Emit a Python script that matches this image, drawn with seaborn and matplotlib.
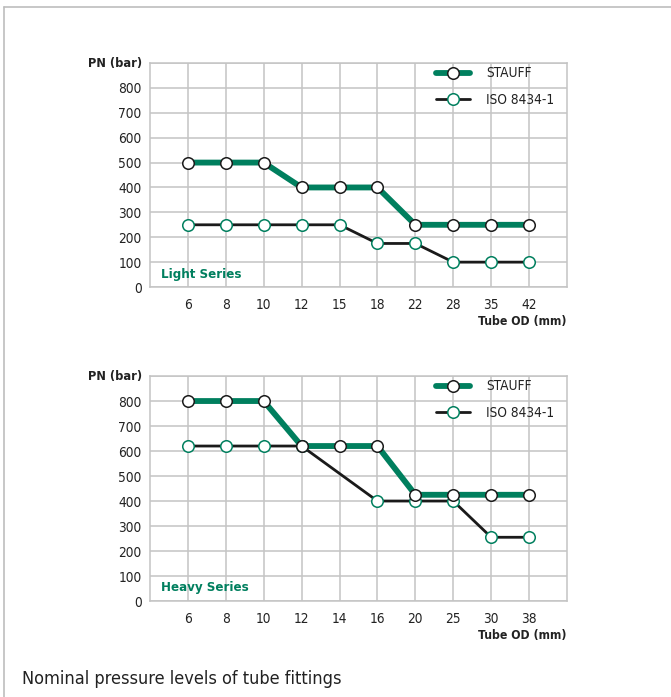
import numpy as np
import pandas as pd
import matplotlib
matplotlib.use("Agg")
import matplotlib.pyplot as plt
from matplotlib.lines import Line2D
import seaborn as sns

# ---- data ----
light_sizes = ["6", "8", "10", "12", "15", "18", "22", "28", "35", "42"]
light_stauff = [500, 500, 500, 400, 400, 400, 250, 250, 250, 250]
light_iso = [250, 250, 250, 250, 250, 175, 175, 100, 100, 100]

heavy_sizes = ["6", "8", "10", "12", "14", "16", "20", "25", "30", "38"]
heavy_stauff = [800, 800, 800, 620, 620, 620, 425, 425, 425, 425]
heavy_iso = [620, 620, 620, 620, np.nan, 400, 400, 400, 255, 255]

y_ticks = [0, 100, 200, 300, 400, 500, 600, 700, 800]
series_names = ["STAUFF", "ISO 8434-1"]
panel_labels = ["Light Series", "Heavy Series"]

GREEN = "#007f5e"
GRID = "#c4c4c4"
TXT = "#222222"

sns.set_theme(style="white")
plt.rcParams['font.family'] = ['DejaVu Sans']
plt.rcParams['font.stretch'] = 'condensed'

fig = plt.figure(figsize=(6.71, 6.97), dpi=100)

def panel(rect, sizes, stauff, iso, label):
    ax = fig.add_axes(rect)
    x = np.arange(len(sizes))
    df = pd.DataFrame({"x": x, "stauff": stauff, "iso": iso})
    sns.lineplot(data=df, x="x", y="iso", ax=ax, color="#1a1a1a", lw=2.0,
                 marker="o", markersize=8.3, markerfacecolor="white",
                 markeredgecolor=GREEN, markeredgewidth=1.1, zorder=3,
                 label=series_names[1])
    sns.lineplot(data=df, x="x", y="stauff", ax=ax, color=GREEN, lw=4.2,
                 marker="o", markersize=8.3, markerfacecolor="white",
                 markeredgecolor="#1a1a1a", markeredgewidth=1.1, zorder=4,
                 label=series_names[0])
    ax.set_xlim(-1, len(sizes))
    ax.set_ylim(0, 900)
    ax.set_xticks(x)
    ax.set_xticklabels(sizes)
    ax.set_yticks(y_ticks)
    ax.set_yticklabels([str(v) for v in y_ticks])
    ax.yaxis.set_minor_locator(matplotlib.ticker.FixedLocator([900]))
    ax.grid(True, which="both", color=GRID, lw=1.1)
    ax.set_axisbelow(True)
    for s in ax.spines.values():
        s.set_color(GRID)
        s.set_linewidth(1.1)
    ax.tick_params(axis="both", length=0, labelsize=9.8, colors=TXT)
    ax.tick_params(axis="x", pad=8)
    ax.tick_params(axis="y", pad=6)
    ax.set_xlabel("")
    ax.set_ylabel("")
    ax.text(-0.018, 1.0, "PN (bar)", transform=ax.transAxes, ha="right",
            va="center", fontsize=9.2, fontweight="bold", color=TXT)
    ax.text(1.0, -0.155, "Tube OD (mm)", transform=ax.transAxes, ha="right",
            va="center", fontsize=8.8, fontweight="bold", color=TXT)
    ax.text(0.026, 0.058, label, transform=ax.transAxes, ha="left",
            va="center", fontsize=9.5, fontweight="bold", color=GREEN)
    handles, labels = ax.get_legend_handles_labels()
    order = [labels.index(n) for n in series_names]
    ax.legend([handles[i] for i in order], [labels[i] for i in order],
              loc="upper left", bbox_to_anchor=(0.686, 0.985), frameon=False,
              borderpad=0, borderaxespad=0, handlelength=2.5,
              handletextpad=1.2, labelspacing=0.92, fontsize=9.8,
              labelcolor=TXT)
    return ax

panel([0.2235, 0.5882, 0.6215, 0.3214], light_sizes, light_stauff, light_iso,
      panel_labels[0])
panel([0.2235, 0.1377, 0.6215, 0.3228], heavy_sizes, heavy_stauff, heavy_iso,
      panel_labels[1])

fig.text(22 / 671, 1 - 679 / 697, "Nominal pressure levels of tube fittings",
         ha="left", va="center", fontsize=13, color=TXT)

# frame lines (top and left)
fig.add_artist(Line2D([3.5 / 671, 1.0], [1 - 6.5 / 697, 1 - 6.5 / 697],
                      transform=fig.transFigure, color="#bdbdbd", lw=1.2))
fig.add_artist(Line2D([3.5 / 671, 3.5 / 671], [0, 1 - 6.5 / 697],
                      transform=fig.transFigure, color="#bdbdbd", lw=1.2))

fig.savefig("out.png", dpi=100)
